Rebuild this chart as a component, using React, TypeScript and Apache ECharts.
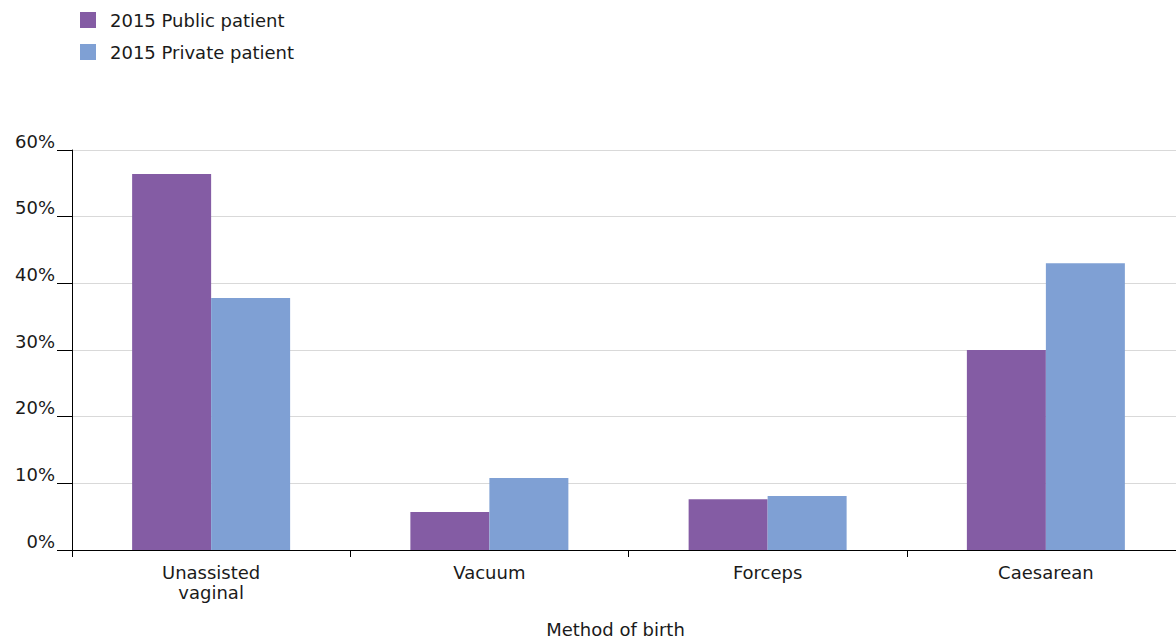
import React, { useEffect, useRef } from "react";
import * as echarts from "echarts";

const categories = ["Unassisted\nvaginal", "Vacuum", "Forceps", "Caesarean"];
const publicPatient = [56.4, 5.7, 7.6, 30.0];
const privatePatient = [37.8, 10.8, 8.1, 43.0];
const seriesNames = ["2015 Public patient", "2015 Private patient"];
const yTicks = { min: 0, max: 60, interval: 10 };

const PURPLE = "#845ca4";
const BLUE = "#7fa0d4";
const FONT = "'DejaVu Sans', 'Noto Sans', sans-serif";
const TEXT = "#1a1a1a";
const FS = 18;

export default function App() {
  const ref = useRef<HTMLDivElement>(null);

  useEffect(() => {
    if (!ref.current) return;
    const chart = echarts.init(ref.current, null, { renderer: "svg" });
    chart.setOption({
      animation: false,
      backgroundColor: "#ffffff",
      textStyle: { fontFamily: FONT },
      legend: {
        orient: "vertical",
        left: 75,
        top: 6,
        itemWidth: 16,
        itemHeight: 16,
        itemGap: 14,
        icon: "rect",
        textStyle: {
          fontSize: FS,
          color: TEXT,
          fontFamily: FONT,
          padding: [0, 0, 0, 9],
        },
        data: seriesNames,
      },
      grid: { left: 72, right: 0, top: 150, bottom: 93, containLabel: false },
      xAxis: {
        type: "category",
        data: categories,
        name: "Method of birth",
        nameLocation: "middle",
        nameGap: 70,
        nameTextStyle: {
          fontSize: FS,
          color: TEXT,
          fontFamily: FONT,
          padding: [0, 26, 0, 0],
        },
        axisLine: { lineStyle: { color: "#000000", width: 1 } },
        axisTick: { show: true, length: 7, lineStyle: { color: "#000000" } },
        axisLabel: {
          fontSize: FS,
          color: TEXT,
          margin: 12,
          lineHeight: 20,
          fontFamily: FONT,
        },
      },
      yAxis: {
        type: "value",
        min: yTicks.min,
        max: yTicks.max,
        interval: yTicks.interval,
        axisLine: { show: true, lineStyle: { color: "#000000", width: 1 } },
        axisTick: { show: true, length: 15, lineStyle: { color: "#000000" } },
        axisLabel: {
          formatter: "{value}%",
          fontSize: FS,
          color: TEXT,
          margin: 17,
          verticalAlign: "bottom",
          fontFamily: FONT,
        },
        splitLine: { show: true, lineStyle: { color: "#d9d9d9", width: 1 } },
      },
      series: [
        {
          name: seriesNames[0],
          type: "bar",
          data: publicPatient,
          barWidth: 79,
          barGap: "0%",
          itemStyle: { color: PURPLE },
        },
        {
          name: seriesNames[1],
          type: "bar",
          data: privatePatient,
          barWidth: 79,
          barGap: "0%",
          itemStyle: { color: BLUE },
        },
      ],
    });
    return () => chart.dispose();
  }, []);

  // The chart canvas is a little wider than the frame, so the plot area
  // runs just past the visible right edge.
  return (
    <div
      style={{
        width: 1176,
        height: 643,
        position: "absolute",
        left: 0,
        top: 0,
        overflow: "hidden",
      }}
    >
      <div ref={ref} style={{ width: 1185, height: 643 }} />
    </div>
  );
}
